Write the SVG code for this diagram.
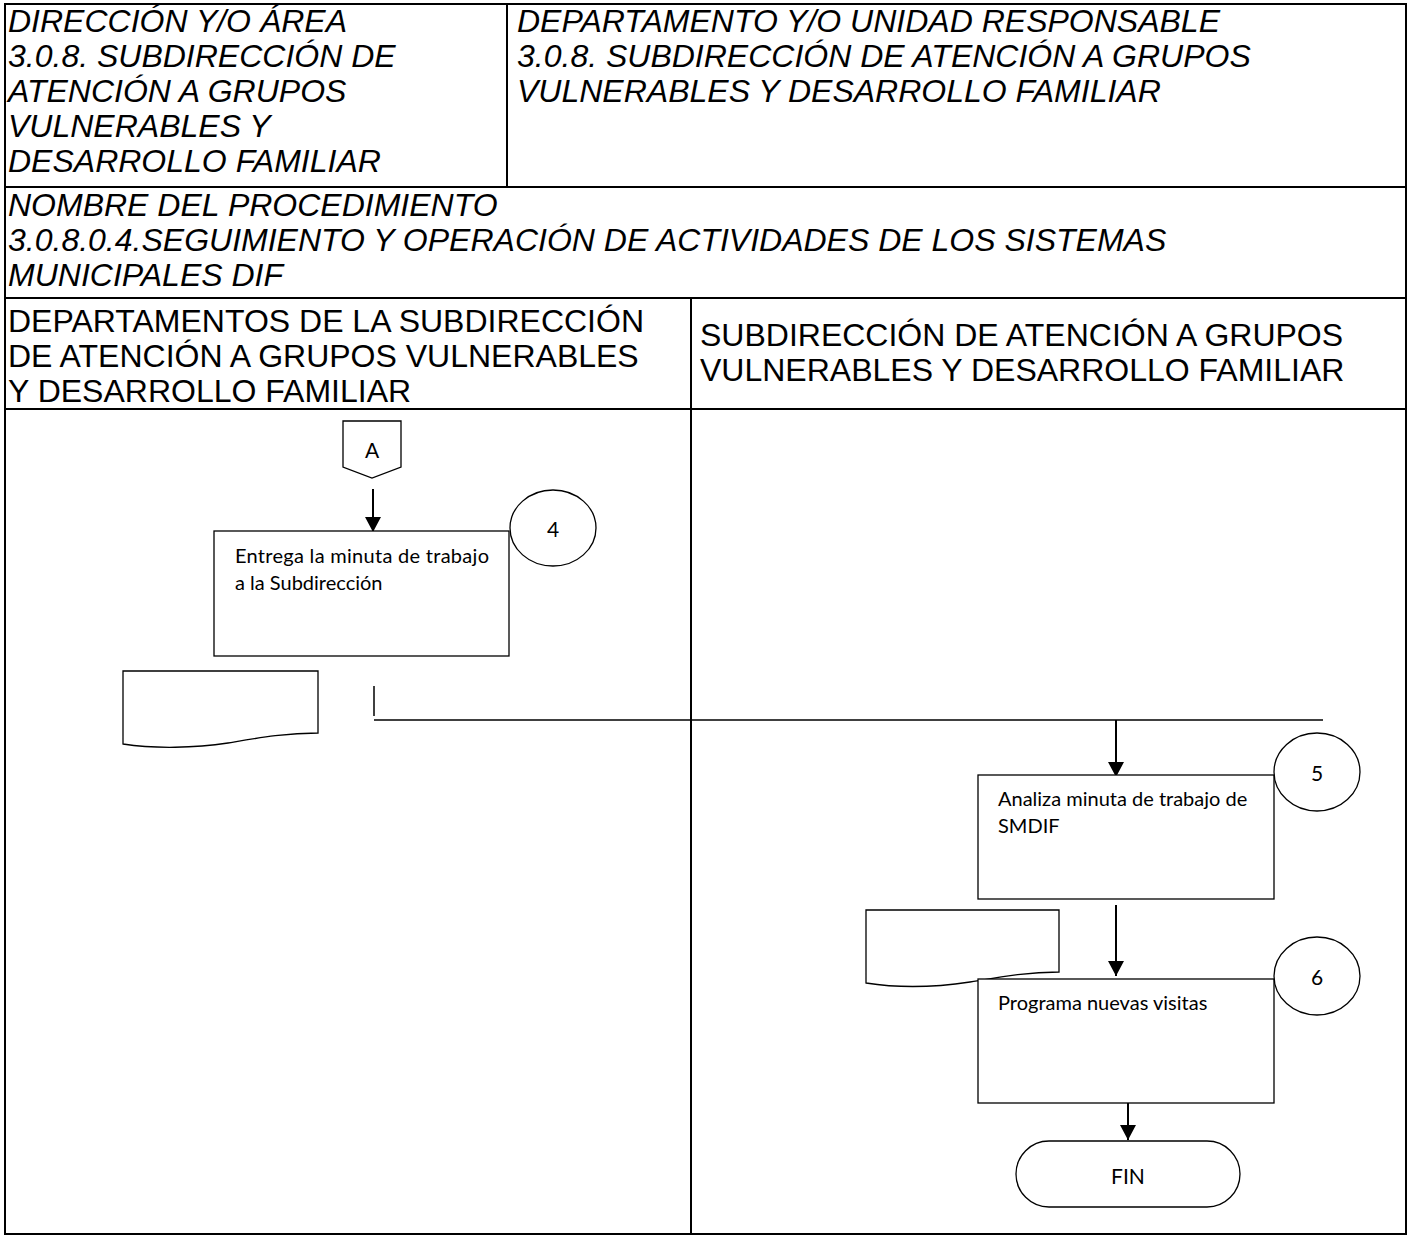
<svg xmlns="http://www.w3.org/2000/svg" width="1408" height="1236" viewBox="0 0 1408 1236">
<defs>
<style>
.hdr{font-family:"Liberation Sans",Arial,sans-serif;font-size:32px;font-style:italic;fill:#000}
.lane{font-family:"Liberation Sans",Arial,sans-serif;font-size:32px;fill:#000}
.tbl{stroke:#000;stroke-width:2;fill:none}
.shape{stroke:#000;stroke-width:1.3;fill:#fff}
.lbl{font-family:Lato,"Noto Sans",sans-serif;font-size:20px;fill:#000}
.num{font-family:Lato,"Noto Sans",sans-serif;font-size:21px;fill:#000;text-anchor:middle;dominant-baseline:central}
.conn{stroke:#000;stroke-width:2;fill:none}
.thin{stroke:#000;stroke-width:1.5;fill:none}
</style>
<marker id="arrL" markerWidth="15" markerHeight="16" refX="15" refY="8" orient="auto" markerUnits="userSpaceOnUse" viewBox="0 0 15 16">
<path d="M0,0 L15,8 L0,16 Z" fill="#000"/>
</marker>
</defs>
<rect width="1408" height="1236" fill="#fff"/>
<g id="table">
<rect class="tbl" x="5" y="4" width="1401" height="1230"/>
<line class="tbl" x1="507" y1="4" x2="507" y2="187"/>
<line class="tbl" x1="5" y1="187" x2="1406" y2="187"/>
<line class="tbl" x1="5" y1="298" x2="1406" y2="298"/>
<line class="tbl" x1="5" y1="409" x2="1406" y2="409"/>
<line class="tbl" x1="691" y1="298" x2="691" y2="1234"/>
</g>
<g id="header-text">
<text class="hdr" x="8" y="32">DIRECCIÓN Y/O ÁREA</text>
<text class="hdr" x="8" y="67">3.0.8. SUBDIRECCIÓN DE</text>
<text class="hdr" x="8" y="102">ATENCIÓN A GRUPOS</text>
<text class="hdr" x="8" y="137">VULNERABLES Y</text>
<text class="hdr" x="8" y="172">DESARROLLO FAMILIAR</text>
<text class="hdr" x="517" y="32">DEPARTAMENTO Y/O UNIDAD RESPONSABLE</text>
<text class="hdr" x="517" y="67">3.0.8. SUBDIRECCIÓN DE ATENCIÓN A GRUPOS</text>
<text class="hdr" x="517" y="102">VULNERABLES Y DESARROLLO FAMILIAR</text>
<text class="hdr" x="8" y="216">NOMBRE DEL PROCEDIMIENTO</text>
<text class="hdr" x="8" y="251">3.0.8.0.4.SEGUIMIENTO Y OPERACIÓN DE ACTIVIDADES DE LOS SISTEMAS</text>
<text class="hdr" x="8" y="286">MUNICIPALES DIF</text>
<text class="lane" x="8" y="332">DEPARTAMENTOS DE LA SUBDIRECCIÓN</text>
<text class="lane" x="8" y="367">DE ATENCIÓN A GRUPOS VULNERABLES</text>
<text class="lane" x="8" y="402">Y DESARROLLO FAMILIAR</text>
<text class="lane" x="700" y="346">SUBDIRECCIÓN DE ATENCIÓN A GRUPOS</text>
<text class="lane" x="700" y="381">VULNERABLES Y DESARROLLO FAMILIAR</text>
</g>
<g id="connectors">
<line class="conn" x1="373" y1="489" x2="373" y2="532" marker-end="url(#arrL)"/>
<line class="thin" x1="374" y1="686" x2="374" y2="716"/>
<line class="thin" x1="374" y1="720" x2="1323" y2="720"/>
<line class="conn" x1="1116" y1="720" x2="1116" y2="777" marker-end="url(#arrL)"/>
<line class="conn" x1="1116" y1="905" x2="1116" y2="976" marker-end="url(#arrL)"/>
<line class="conn" x1="1128" y1="1103" x2="1128" y2="1140" marker-end="url(#arrL)"/>
</g>
<g id="node-A">
<path class="shape" d="M343,421 H401 V467 L372,478 L343,467 Z"/>
<text class="num" x="372" y="449">A</text>
</g>
<g id="node-4">
<rect class="shape" x="214" y="531" width="295" height="125"/>
<text class="lbl" x="235" y="563" textLength="254" lengthAdjust="spacing">Entrega la minuta de trabajo</text>
<text class="lbl" x="235" y="590">a la Subdirección</text>
</g>
<g id="circle-4">
<ellipse class="shape" cx="553" cy="528" rx="43" ry="38"/>
<text class="num" x="553" y="528">4</text>
</g>
<g id="doc-1">
<path class="shape" d="M123,671 H318 V733 C285,733 258,738 228,743 C195,748 155,749 123,744 Z"/>
</g>
<g id="doc-2">
<path class="shape" d="M866,910 H1059 V972 C1026,972 1000,977 970,982 C937,987 898,988 866,983 Z"/>
</g>
<g id="node-5">
<rect class="shape" x="978" y="775" width="296" height="124"/>
<text class="lbl" x="998" y="806">Analiza minuta de trabajo de</text>
<text class="lbl" x="998" y="833">SMDIF</text>
</g>
<g id="circle-5">
<ellipse class="shape" cx="1317" cy="772" rx="43" ry="39"/>
<text class="num" x="1317" y="772">5</text>
</g>
<g id="node-6">
<rect class="shape" x="978" y="979" width="296" height="124"/>
<text class="lbl" x="998" y="1010">Programa nuevas visitas</text>
</g>
<g id="circle-6">
<ellipse class="shape" cx="1317" cy="976" rx="43" ry="39"/>
<text class="num" x="1317" y="976">6</text>
</g>
<g id="node-fin">
<rect class="shape" x="1016" y="1141" width="224" height="66" rx="33" ry="33"/>
<text class="num" x="1128" y="1175">FIN</text>
</g>
</svg>
